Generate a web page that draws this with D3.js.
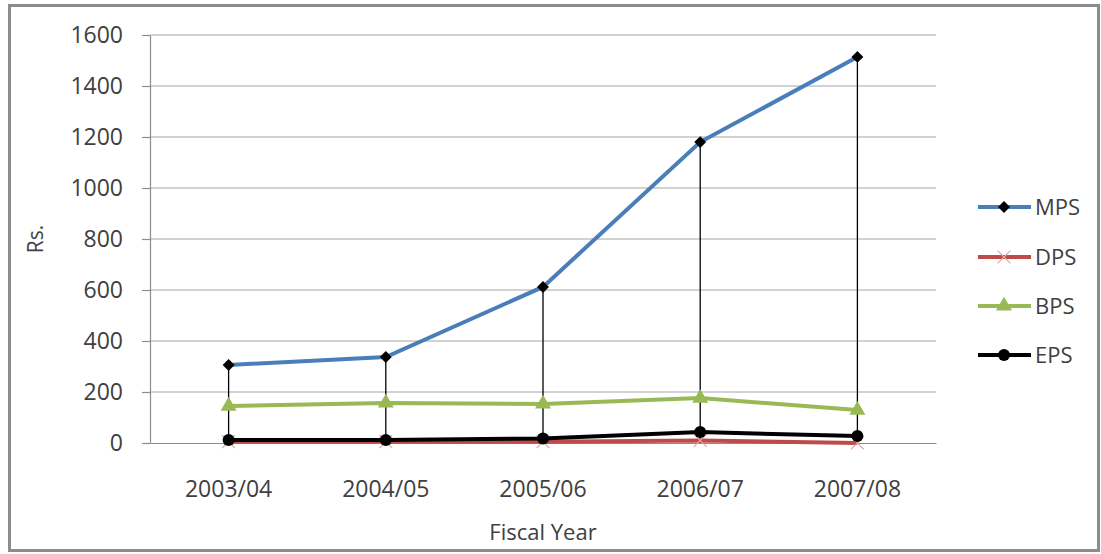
<!DOCTYPE html>
<html>
<head>
<meta charset="utf-8">
<script src="https://cdn.jsdelivr.net/npm/d3@7"></script>
<style>
  html, body { margin: 0; padding: 0; background: #fff; }
  svg { display: block; }
  text { font-family: "Open Sans", "Noto Sans", sans-serif; fill: #404040; }
</style>
</head>
<body>
<svg id="chart" width="1101" height="554"></svg>
<script>
// Per-share figures by fiscal year (Rs.)
const years = ["2003/04", "2004/05", "2005/06", "2006/07", "2007/08"];
const mps = [306, 337, 612, 1180, 1514];
const dps = [5, 5, 5, 10, 0];
const bps = [145, 157, 153, 176, 129];
const eps = [12, 12, 18, 43, 27];
const yTicks = [0, 200, 400, 600, 800, 1000, 1200, 1400, 1600];

const series = [
  { name: "MPS", values: mps, color: "#4a7ebb", marker: "diamond" },
  { name: "DPS", values: dps, color: "#be4b48", marker: "cross" },
  { name: "BPS", values: bps, color: "#98b954", marker: "triangle" },
  { name: "EPS", values: eps, color: "#000000", marker: "circle" }
];

const svg = d3.select("#chart");
const W = 1101, H = 554;

// outer frame
svg.append("rect")
  .attr("x", 9.5).attr("y", 5.5)
  .attr("width", W - 12).attr("height", H - 9)
  .attr("fill", "#fff").attr("stroke", "#8c8c8c").attr("stroke-width", 3);

const plot = { left: 150, right: 936, top: 35, bottom: 443 };

const x = d3.scaleBand().domain(years).range([plot.left, plot.right]);
const xc = d => x(d) + x.bandwidth() / 2;
const y = d3.scaleLinear().domain([0, 1600]).range([plot.bottom, plot.top]);

// horizontal gridlines
svg.append("g")
  .selectAll("line")
  .data(yTicks.filter(t => t > 0))
  .join("line")
  .attr("x1", plot.left).attr("x2", plot.right)
  .attr("y1", d => y(d)).attr("y2", d => y(d))
  .attr("stroke", "#a6a6a6").attr("stroke-width", 1.2);

// y axis
const yAxis = d3.axisLeft(y).tickValues(yTicks).tickFormat(d3.format("d"))
  .tickSize(8).tickPadding(19).tickSizeOuter(0);
const gy = svg.append("g").attr("transform", `translate(${plot.left},0)`).call(yAxis);
gy.select(".domain").attr("stroke", "#8c8c8c").attr("stroke-width", 1.2);
gy.selectAll(".tick line").attr("stroke", "#8c8c8c").attr("stroke-width", 1.2);
gy.selectAll(".tick text")
  .attr("font-size", 23).attr("fill", "#404040")
  .style("font-family", "'Open Sans', sans-serif");

// x axis
const xAxis = d3.axisBottom(x).tickSize(0).tickPadding(38).tickSizeOuter(0);
const gx = svg.append("g").attr("transform", `translate(0,${plot.bottom})`).call(xAxis);
gx.select(".domain").attr("stroke", "#8c8c8c").attr("stroke-width", 1.2);
gx.selectAll(".tick text")
  .attr("font-size", 23).attr("fill", "#404040")
  .style("font-family", "'Open Sans', sans-serif");

// axis titles
svg.append("text")
  .attr("transform", `translate(43,${(plot.top + plot.bottom) / 2}) rotate(-90)`)
  .attr("text-anchor", "middle")
  .attr("font-size", 21)
  .text("Rs.");
svg.append("text")
  .attr("x", (plot.left + plot.right) / 2).attr("y", 540)
  .attr("text-anchor", "middle")
  .attr("font-size", 22)
  .text("Fiscal Year");

// drop lines from the top series down to the axis
svg.append("g")
  .selectAll("line")
  .data(years)
  .join("line")
  .attr("x1", d => xc(d)).attr("x2", d => xc(d))
  .attr("y1", (d, i) => y(d3.max(series, s => s.values[i])))
  .attr("y2", y(0))
  .attr("stroke", "#000").attr("stroke-width", 1.3);

function drawMarker(g, type, cx, cy, color) {
  if (type === "diamond") {
    g.append("path")
      .attr("d", d3.symbol(d3.symbolDiamond2, 90)())
      .attr("transform", `translate(${cx},${cy})`)
      .attr("fill", "#000");
  } else if (type === "circle") {
    g.append("circle").attr("cx", cx).attr("cy", cy).attr("r", 6).attr("fill", "#000");
  } else if (type === "triangle") {
    g.append("path")
      .attr("d", d3.symbol(d3.symbolTriangle, 110)())
      .attr("transform", `translate(${cx},${cy})`)
      .attr("fill", color);
  } else if (type === "cross") {
    g.append("path")
      .attr("d", d3.symbol(d3.symbolTimes, 110)())
      .attr("transform", `translate(${cx},${cy})`)
      .attr("fill", "none").attr("stroke", "#e0a6a4").attr("stroke-width", 1.2);
  }
}

const line = d3.line().x((d, i) => xc(years[i])).y(d => y(d));

// draw lines back to front so EPS sits on top
const order = ["DPS", "MPS", "BPS", "EPS"];
order.forEach(name => {
  const s = series.find(t => t.name === name);
  const g = svg.append("g");
  g.append("path")
    .attr("d", line(s.values))
    .attr("fill", "none")
    .attr("stroke", s.color)
    .attr("stroke-width", 4);
  s.values.forEach((v, i) => drawMarker(g, s.marker, xc(years[i]), y(v), s.color));
});

// legend
const legend = svg.append("g");
const legY = [207, 257, 306, 355];
series.forEach((s, i) => {
  const g = legend.append("g");
  const ly = legY[i];
  g.append("line")
    .attr("x1", 978).attr("x2", 1031).attr("y1", ly).attr("y2", ly)
    .attr("stroke", s.color).attr("stroke-width", 4);
  drawMarker(g, s.marker, 1004, ly, s.color);
  g.append("text")
    .attr("x", 1035).attr("y", ly + 8)
    .attr("font-size", 22)
    .text(s.name);
});
</script>
</body>
</html>
